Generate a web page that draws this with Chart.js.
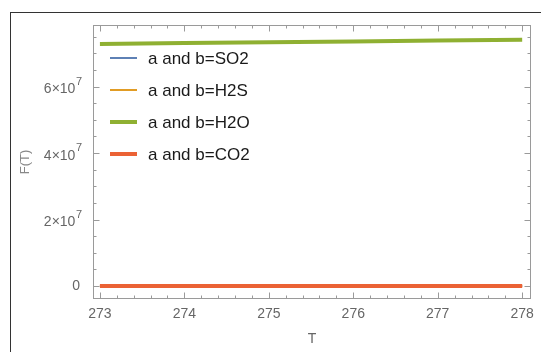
<!DOCTYPE html>
<html>
<head>
<meta charset="utf-8">
<script src="https://cdn.jsdelivr.net/npm/chart.js@4.4.1/dist/chart.umd.min.js"></script>
<style>
  html, body { margin: 0; padding: 0; background: #fff; overflow: hidden; }
  #wrap { position: relative; width: 541px; height: 352px; }
  #frame { position: absolute; left: 10px; top: 12px; width: 600px; height: 400px; border: 1px solid #333; box-sizing: border-box; }
  canvas { position: absolute; left: 0; top: 0; }
</style>
</head>
<body>
<div id="wrap">
  <div id="frame"></div>
  <canvas id="c" width="541" height="352"></canvas>
</div>
<script>
// values
const tValues = [273, 274, 275, 276, 277, 278];
const seriesNames = ['a and b=SO2', 'a and b=H2S', 'a and b=H2O', 'a and b=CO2'];
const so2 = [0, 0, 0, 0, 0, 0];
const h2s = [0, 0, 0, 0, 0, 0];
const h2o = [7.28e7, 7.305e7, 7.33e7, 7.355e7, 7.385e7, 7.41e7];
const co2 = [0, 0, 0, 0, 0, 0];

const xTicks = [273, 274, 275, 276, 277, 278];
const yTicks = [0, 2e7, 4e7, 6e7];
const yTickBase = ['0', '2×10', '4×10', '6×10'];
const yTickExp = ['', '7', '7', '7'];

const colors = ['#5E81B5', '#E19C24', '#8FB032', '#EB6235'];
const widths = [2, 2, 4, 4];
const FONT = "'Liberation Sans', Arial, sans-serif";

const toPts = arr => arr.map((v, i) => ({ x: tValues[i], y: v }));

// frame with inward ticks on all four sides, plus y labels with exponents
const framePlugin = {
  id: 'frame',
  afterDraw(chart) {
    const { ctx, chartArea: a, scales: { x, y } } = chart;
    const L = Math.round(a.left) + 0.5, R = Math.round(a.right) - 0.5;
    const T = Math.round(a.top) + 0.5, B = Math.round(a.bottom) - 0.5;
    ctx.save();
    ctx.strokeStyle = '#9a9a9a';
    ctx.lineWidth = 1;
    ctx.strokeRect(L, T, R - L, B - T);
    ctx.beginPath();
    for (let i = 0; i <= 25; i++) {
      const px = Math.round(x.getPixelForValue(273 + i * 0.2)) + 0.5;
      const len = i % 5 === 0 ? 6 : 3;
      ctx.moveTo(px, B); ctx.lineTo(px, B - len);
      ctx.moveTo(px, T); ctx.lineTo(px, T + len);
    }
    for (let i = 0; i <= 15; i++) {
      const py = Math.round(y.getPixelForValue(i * 5e6)) + 0.5;
      const len = i % 4 === 0 ? 6 : 3;
      ctx.moveTo(L, py); ctx.lineTo(L + len, py);
      ctx.moveTo(R, py); ctx.lineTo(R - len, py);
    }
    ctx.stroke();

    ctx.fillStyle = '#666';
    ctx.textBaseline = 'middle';
    yTicks.forEach((v, i) => {
      const py = y.getPixelForValue(v);
      let right = a.left - 11;
      if (yTickExp[i]) {
        ctx.font = '11px ' + FONT;
        ctx.textAlign = 'right';
        ctx.fillText(yTickExp[i], right, py - 5);
        right -= ctx.measureText(yTickExp[i]).width + 0.5;
        ctx.font = '14px ' + FONT;
        ctx.fillText(yTickBase[i], right, py + 3);
      } else {
        ctx.font = '14px ' + FONT;
        ctx.textAlign = 'right';
        ctx.fillText(yTickBase[i], right - 2, py);
      }
    });
    ctx.restore();
  }
};

// legend placed inside the plot area
const legendPlugin = {
  id: 'innerLegend',
  afterDatasetsDraw(chart) {
    const { ctx } = chart;
    ctx.save();
    ctx.font = '17px ' + FONT;
    ctx.textBaseline = 'middle';
    chart.data.datasets.forEach((ds, i) => {
      const yy = 58 + i * 32;
      ctx.strokeStyle = ds.borderColor;
      ctx.lineWidth = widths[i];
      ctx.beginPath();
      ctx.moveTo(110, yy); ctx.lineTo(137, yy);
      ctx.stroke();
      ctx.fillStyle = '#1a1a1a';
      ctx.fillText(ds.label, 148, yy + 1);
    });
    ctx.restore();
  }
};

new Chart(document.getElementById('c'), {
  type: 'line',
  data: {
    datasets: [so2, h2s, h2o, co2].map((arr, i) => ({
      label: seriesNames[i],
      data: toPts(arr),
      borderColor: colors[i],
      backgroundColor: colors[i],
      borderWidth: widths[i],
      order: 3 - i,
      pointRadius: 0,
      tension: 0
    }))
  },
  options: {
    responsive: false,
    animation: false,
    layout: { padding: { left: 12, right: 7, top: 25, bottom: 2 } },
    plugins: { legend: { display: false }, tooltip: { enabled: false } },
    scales: {
      x: {
        type: 'linear', min: 272.918, max: 278.106,
        afterBuildTicks: s => { s.ticks = xTicks.map(v => ({ value: v })); },
        afterFit: s => { s.height = 51; },
        grid: { display: false, drawTicks: false },
        border: { display: false },
        ticks: { padding: 7, color: '#666', font: { family: FONT, size: 14 }, callback: v => String(v), maxRotation: 0 },
        title: { display: true, text: 'T', color: '#666', font: { family: FONT, size: 14 }, padding: { top: 0, bottom: 2 } }
      },
      y: {
        type: 'linear', min: -3.91e6, max: 7.85e7,
        afterBuildTicks: s => { s.ticks = yTicks.map(v => ({ value: v })); },
        afterFit: s => { s.width = 81; },
        grid: { display: false, drawTicks: false },
        border: { display: false },
        ticks: { display: false },
        title: { display: true, text: 'F(T)', color: '#888', font: { family: FONT, size: 13 }, padding: { top: 6, bottom: 0 } }
      }
    }
  },
  plugins: [framePlugin, legendPlugin]
});
</script>
</body>
</html>
